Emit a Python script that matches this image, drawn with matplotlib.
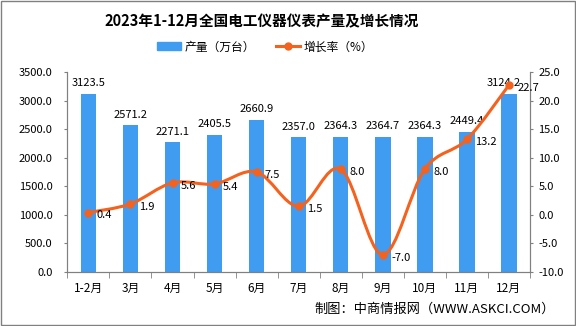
import matplotlib
matplotlib.use("Agg")
import matplotlib.pyplot as plt
from matplotlib.path import Path
from matplotlib.patches import PathPatch, Rectangle, Patch
from matplotlib.lines import Line2D

plt.rcParams['font.family'] = ['Noto Sans CJK SC', 'DejaVu Sans']

months = ['1-2月', '3月', '4月', '5月', '6月', '7月', '8月', '9月', '10月', '11月', '12月']
output = [3123.5, 2571.2, 2271.1, 2405.5, 2660.9, 2357.0, 2364.3, 2364.7, 2364.3, 2449.4, 3124.2]
growth = [0.4, 1.9, 5.6, 5.4, 7.5, 1.5, 8.0, -7.0, 8.0, 13.2, 22.7]

bar_c = '#3f9cf0'
line_c = '#f4621e'
axis_c = '#808080'

fig = plt.figure(figsize=(5.76, 3.26), dpi=100)
ax = fig.add_axes([0.117, 0.166, 0.803, 0.613])
ax2 = ax.twinx()

x = list(range(len(months)))
ax.bar(x, output, width=0.37, color=bar_c, zorder=2)
ax.set_xlim(-0.5, len(months) - 0.5)
ax.set_ylim(0, 3500)
ax.set_yticks(range(0, 3501, 500))
ax.set_yticklabels(['%.1f' % v for v in range(0, 3501, 500)], fontsize=8)
ax.set_xticks(x)
ax.set_xticklabels(months, fontsize=8.5)
ax.set_xticks([i - 0.5 for i in range(len(months) + 1)], minor=True)
ax.tick_params(axis='x', which='major', length=0, pad=7)
ax.tick_params(axis='x', which='minor', length=4, direction='out', color=axis_c)
ax.tick_params(axis='y', length=2.5, direction='out', color=axis_c, pad=8)
ax.spines['top'].set_visible(False)
ax2.spines['top'].set_visible(False)
for s in ['left', 'bottom', 'right']:
    ax.spines[s].set_color(axis_c)
    ax2.spines[s].set_color(axis_c)

# bar value labels; the last one sits a bit left so it clears the line label
for xi, v in zip(x, output):
    dx = -4 if xi == x[-1] else 0
    ax.annotate('%.1f' % v, (xi, v), xytext=(dx, 4), textcoords='offset points',
                ha='center', va='bottom', fontsize=8)

# smooth curve through the growth points (Catmull-Rom -> bezier)
verts = [(x[0], growth[0])]
codes = [Path.MOVETO]
n = len(x)
for i in range(n - 1):
    p0 = (x[i - 1], growth[i - 1]) if i > 0 else (x[i], growth[i])
    p1 = (x[i], growth[i])
    p2 = (x[i + 1], growth[i + 1])
    p3 = (x[i + 2], growth[i + 2]) if i + 2 < n else p2
    c1 = (p1[0] + (p2[0] - p0[0]) / 6, p1[1] + (p2[1] - p0[1]) / 6)
    c2 = (p2[0] - (p3[0] - p1[0]) / 6, p2[1] - (p3[1] - p1[1]) / 6)
    verts += [c1, c2, p2]
    codes += [Path.CURVE4] * 3
ax2.add_patch(PathPatch(Path(verts, codes), facecolor='none', edgecolor=line_c, lw=2.2, zorder=3))
ax2.plot(x, growth, 'o', color=line_c, ms=5, zorder=4)
ax2.set_ylim(-10, 25)
ax2.set_yticks(range(-10, 26, 5))
ax2.set_yticklabels(['%.1f' % v for v in range(-10, 26, 5)], fontsize=8)
ax2.tick_params(axis='y', length=2.5, direction='out', color=axis_c, pad=3.5)

for xi, g in zip(x, growth):
    ax2.annotate('%.1f' % g, (xi, g), xytext=(6, -2), textcoords='offset points',
                 ha='left', va='center', fontsize=8)

fig.text(0.455, 0.935, '2023年1-12月全国电工仪器仪表产量及增长情况', ha='center', va='center',
         fontsize=10.5, fontweight='bold')

handles = [Patch(color=bar_c), Line2D([0], [0], color=line_c, lw=2.2, marker='o', ms=5)]
fig.legend(handles, ['产量（万台）', '增长率（%）'], loc='center', bbox_to_anchor=(0.46, 0.856),
           ncol=2, frameon=False, fontsize=8.5, handlelength=2.0, handletextpad=0.3,
           columnspacing=1.8)

fig.text(0.964, 0.05, '制图：中商情报网（WWW.ASKCI.COM）', ha='right', va='center', fontsize=9.5)

fig.add_artist(Rectangle((0.002, 0.003), 0.996, 0.994, transform=fig.transFigure,
                         fill=False, edgecolor=axis_c, lw=1))

fig.savefig('out.png', dpi=100)
